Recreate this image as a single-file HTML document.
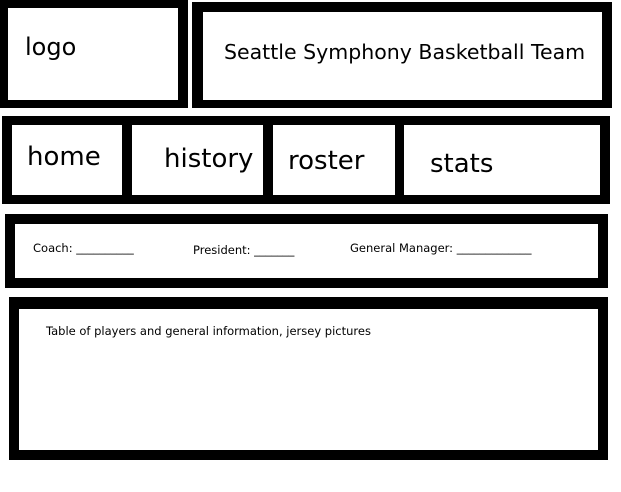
<!DOCTYPE html>
<html><head><style>
body{margin:0;width:621px;height:492px;background:#fff;position:relative;overflow:hidden;font-family:"DejaVu Sans","Liberation Sans",sans-serif;color:#000}
.b{position:absolute;background:#000}
.w{position:absolute;background:#fff}
.t{position:absolute;white-space:nowrap;line-height:1}
</style></head><body>
<div class="b" style="left:0;top:0;width:188px;height:108px"></div>
<div class="w" style="left:8px;top:8px;width:170px;height:92px"></div>
<div class="b" style="left:192px;top:2px;width:420px;height:106px"></div>
<div class="w" style="left:203px;top:12px;width:399px;height:88px"></div>

<div class="b" style="left:2px;top:116px;width:608px;height:88px"></div>
<div class="w" style="left:12px;top:125px;width:110px;height:70px"></div>
<div class="w" style="left:132px;top:125px;width:131px;height:70px"></div>
<div class="w" style="left:273px;top:125px;width:122px;height:70px"></div>
<div class="w" style="left:404px;top:125px;width:196px;height:70px"></div>

<div class="b" style="left:5px;top:214px;width:603px;height:74px"></div>
<div class="w" style="left:15px;top:224px;width:583px;height:54px"></div>

<div class="b" style="left:9px;top:297px;width:599px;height:163px"></div>
<div class="w" style="left:19px;top:309px;width:579px;height:141px"></div>

<div class="t" style="left:25px;top:35px;font-size:24px">logo</div>
<div class="t" style="left:224px;top:42px;font-size:20.5px">Seattle Symphony Basketball Team</div>
<div class="t" style="left:27px;top:144px;font-size:26px">home</div>
<div class="t" style="left:164px;top:146px;font-size:26px">history</div>
<div class="t" style="left:288px;top:148px;font-size:26px">roster</div>
<div class="t" style="left:430px;top:151px;font-size:26px">stats</div>
<div class="t" style="left:33px;top:243px;font-size:11.5px">Coach: __________</div>
<div class="t" style="left:193px;top:245px;font-size:11.5px">President: _______</div>
<div class="t" style="left:350px;top:243px;font-size:11.5px">General Manager: _____________</div>
<div class="t" style="left:46px;top:326px;font-size:11.5px">Table of players and general information, jersey pictures</div>
</body></html>
